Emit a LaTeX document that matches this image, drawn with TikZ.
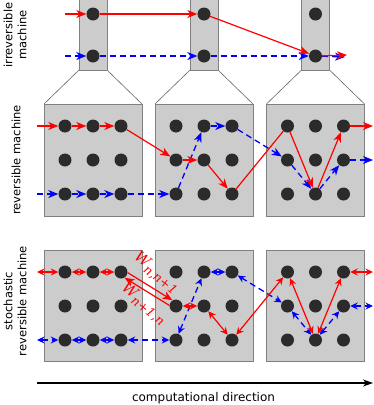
\documentclass[tikz,border=0pt]{standalone}
\usepackage{fontspec}
\setsansfont{DejaVu Sans}
\newfontfamily\ratefont{DejaVu Serif}
\usetikzlibrary{arrows.meta,calc}

\newcommand{\rateW}[1]{{\ratefont\itshape\fontsize{15}{17}\selectfont W\raisebox{-4.5pt}{\fontsize{12.5}{14}\selectfont #1}}}

\tikzstyle{dot} = [circle, fill=black!83, minimum size=13pt, inner sep=0pt]
\tikzstyle{cell} = [draw=black!50, fill=black!20, line width=0.9pt]
\tikzstyle{fan} = [draw=black!60, line width=0.6pt]
\tikzstyle{redarr} = [red, line width=1.2pt, -{Stealth[length=10pt,width=8pt,inset=3pt]}]
\tikzstyle{bluearr} = [blue, line width=1.3pt, dash pattern=on 6pt off 4pt, -{Stealth[length=10pt,width=8pt,inset=3pt]}]
\tikzstyle{redtwo} = [red, line width=1.2pt, {Stealth[length=7.5pt,width=7pt,inset=2.5pt]}-{Stealth[length=7.5pt,width=7pt,inset=2.5pt]}]
\tikzstyle{bluetwo} = [blue, line width=1.3pt, dash pattern=on 6pt off 4pt, {Stealth[length=7.5pt,width=7pt,inset=2.5pt]}-{Stealth[length=7.5pt,width=7pt,inset=2.5pt]}]
\tikzstyle{side} = [font=\sffamily\fontsize{11.5}{14}\selectfont, rotate=90, align=center]
\tikzstyle{rate} = [red, inner sep=0pt, rotate=-38]

\begin{document}
\begin{tikzpicture}[x=1pt, y=1pt]
\useasboundingbox (0,0) rectangle (374,-405);

% boxes and fans
\foreach \cx in {93,204,315.5} {
    \draw[fan] (\cx-14,-70) -- (\cx-49,-104);
    \draw[fan] (\cx+14,-70) -- (\cx+49,-104);
    \draw[cell] (\cx-14,2) rectangle (\cx+14,-70);
    \draw[cell] (\cx-49,-104) rectangle (\cx+49,-216);
    \draw[cell] (\cx-49,-250) rectangle (\cx+49,-361);
}

% states
\foreach \bx/\cx in {1/93,2/204,3/315.5} {
    \node[dot] (hi\bx) at (\cx,-14) {};
    \node[dot] (lo\bx) at (\cx,-56) {};
    \foreach \rw/\y in {1/126,2/160,3/194}
        \foreach \cl/\dx in {1/-28,2/0,3/28} {
            \node[dot] (m\bx\rw\cl) at (\cx+\dx,-\y) {};
            \node[dot] (s\bx\rw\cl) at (\cx+\dx,-\y-146) {};
        }
}

% free ends
\coordinate (tinr) at (65,-14);
\coordinate (tinb) at (65,-56);
\coordinate (toutr) at (347,-55);
\coordinate (toutb) at (345,-57);
\coordinate (minr) at (37,-126);
\coordinate (minb) at (37,-194);
\coordinate (moutr) at (373,-126);
\coordinate (moutb) at (373,-160);
\coordinate (sinr) at (37,-272);
\coordinate (sinb) at (37,-340);
\coordinate (soutr) at (373,-272);
\coordinate (soutb) at (373,-306);

% irreversible machine
\foreach \u/\v in {tinb/lo1, lo1/lo2, lo2/lo3, lo3/toutb}
    \draw[bluearr] (\u) -- (\v);
\foreach \u/\v in {tinr/hi1, hi1/hi2, hi2/lo3, lo3/toutr}
    \draw[redarr] (\u) -- (\v);

% reversible machine
\foreach \u/\v in {minb/m131, m131/m132, m132/m133, m133/m231, m231/m212,
                   m212/m213, m213/m321, m321/m332, m332/m323, m323/moutb}
    \draw[bluearr] (\u) -- (\v);
\foreach \u/\v in {minr/m111, m111/m112, m112/m113, m113/m221, m221/m222,
                   m222/m233, m311/m332, m332/m313, m313/moutr}
    \draw[redarr] (\u) -- (\v);
\draw[red, line width=1.2pt] (m233) -- (m311);

% stochastic reversible machine
\foreach \u/\v in {sinb/s131, s131/s132, s132/s133, s133/s231, s231/s212,
                   s212/s213, s213/s321, s321/s332, s332/s323, s323/soutb}
    \draw[bluetwo] (\u) -- (\v);
\foreach \u/\v in {sinr/s111, s111/s112, s112/s113, s221/s222,
                   s222/s233, s233/s311, s311/s332, s332/s313, s313/soutr}
    \draw[redtwo] (\u) -- (\v);
\draw[redarr, shorten <=6pt, shorten >=6pt]
    ($(s113)!3pt!90:(s221)$) -- ($(s221)!3pt!-90:(s113)$);
\draw[redarr, {Stealth[length=10pt,width=8pt,inset=3pt]}-, shorten <=6pt, shorten >=6pt]
    ($(s113)!3pt!-90:(s221)$) -- ($(s221)!3pt!90:(s113)$);
\node[rate] (wfwd) at (156,-273) {\rateW{n,n+1}};
\node[rate] (wbwd) at (143.5,-304) {\rateW{n+1,n}};

% labels
\node[side] (irrlab) at (15,-35) {irreversible\\machine};
\node[side] (revlab) at (16,-160) {reversible machine};
\node[side] (stolab) at (15,-301) {stochastic\\reversible machine};

% direction
\coordinate (axl) at (37,-383);
\coordinate (axr) at (373,-383);
\draw[line width=1.3pt, -{Stealth[length=10pt,width=7pt,inset=3pt]}] (axl) -- (axr);
\node[font=\sffamily\fontsize{12}{14}\selectfont] (axlab) at (203.5,-398) {computational direction};
\end{tikzpicture}
\end{document}
